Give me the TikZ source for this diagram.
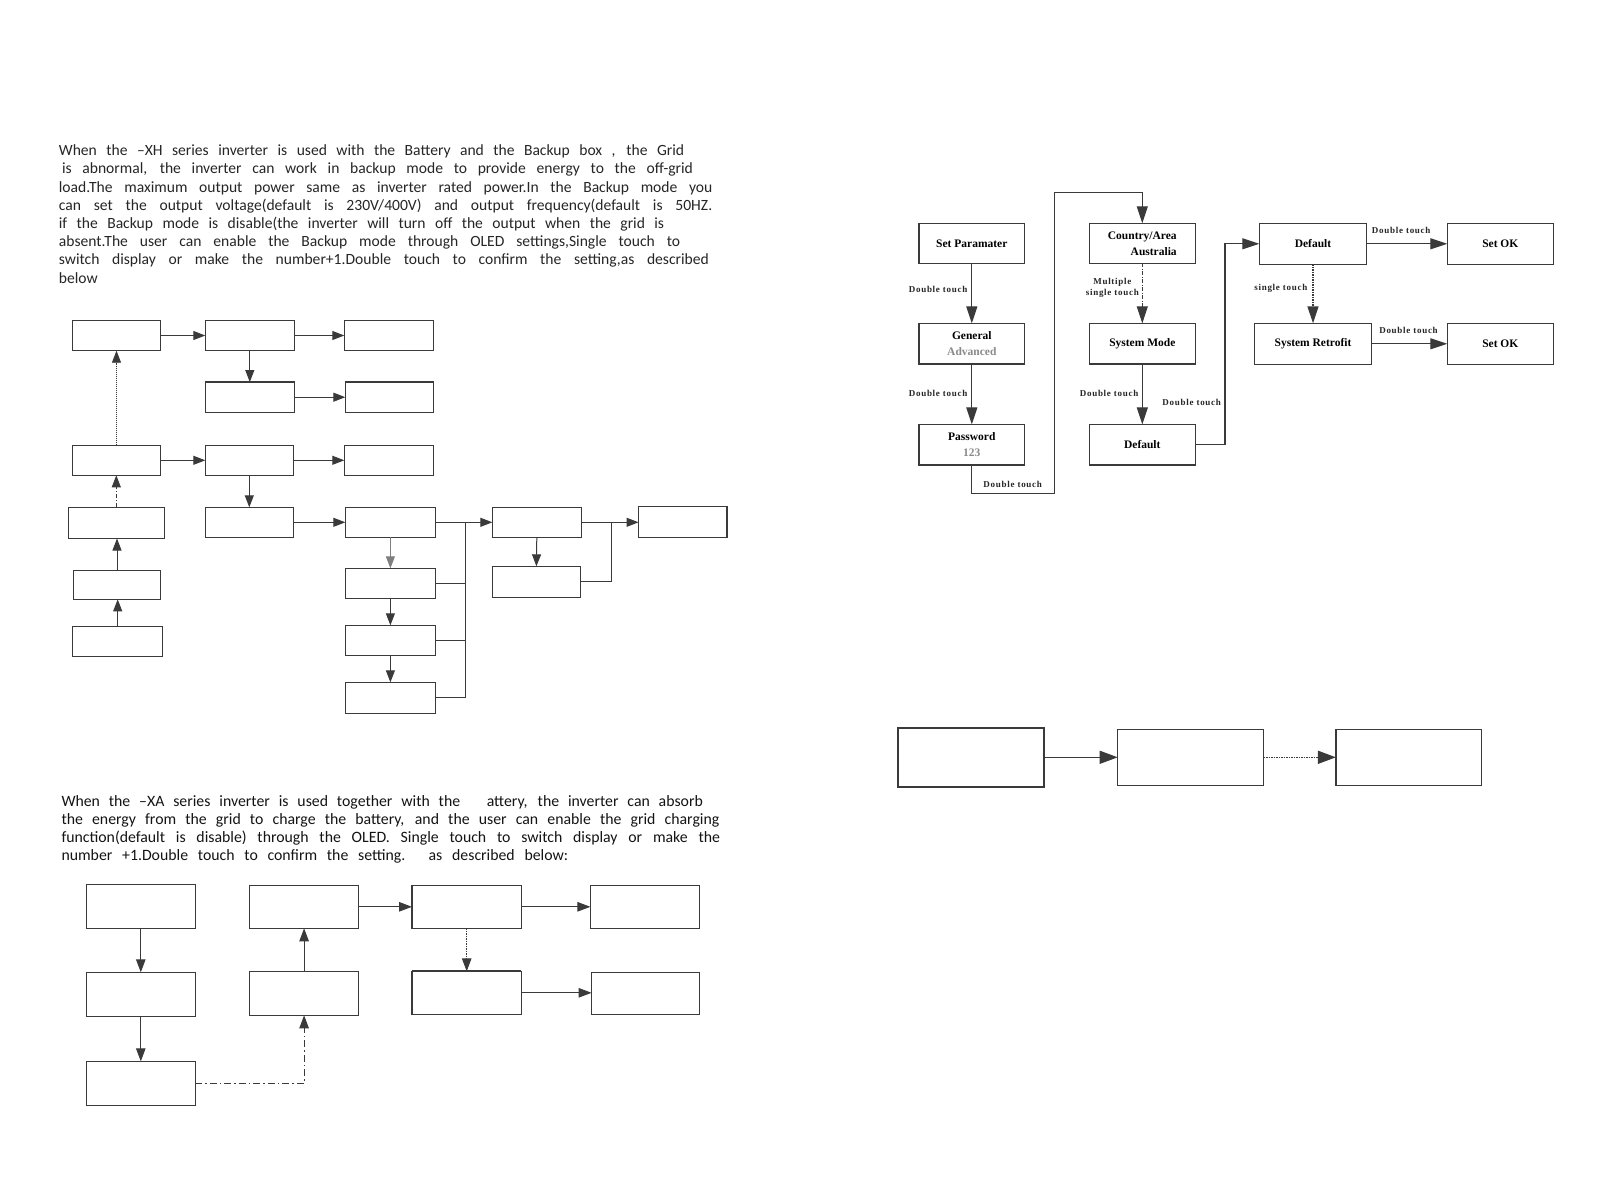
\documentclass[tikz,border=0pt]{standalone}
\usepackage{fontspec}
\setmainfont{Liberation Serif}
\newfontfamily\parafont{Carlito}
\newfontfamily\lblfont[LetterSpace=8]{Liberation Serif}
\usetikzlibrary{arrows.meta}
\definecolor{lc}{HTML}{3A3A3A}
\definecolor{gtx}{HTML}{8A8A8A}
\tikzset{
 bx/.style={draw=lc, line width=1.3pt, rectangle, inner sep=0pt, outer sep=0pt},
 conn/.style={draw=lc, line width=1pt},
 arrA/.style={draw=lc, line width=1pt, -{Triangle[length=12pt,width=9pt]}},
 arrB/.style={draw=lc, line width=1pt, -{Triangle[length=13pt,width=9.5pt]}},
 arrR/.style={draw=lc, line width=1.2pt, -{Triangle[length=17pt,width=11pt]}},
 arrT/.style={draw=lc, line width=1.2pt, -{Triangle[length=18pt,width=13pt]}},
 para/.style={anchor=base west, inner sep=0pt, font=\parafont\fontsize{15.6}{18}\selectfont, text=black!85},
 parb/.style={anchor=base west, inner sep=0pt, font=\parafont\fontsize{15.8}{18}\selectfont, text=black!92},
 boxtxt/.style={font=\fontsize{11.5}{16}\selectfont\bfseries, align=center},
 lbl/.style={font=\lblfont\fontsize{9}{11}\selectfont\bfseries, inner sep=0pt, text=black!85, align=center},
}
\begin{document}
\begin{tikzpicture}[x=1pt,y=-1pt]
\useasboundingbox (0,0) rectangle (1616,1191);
\fill[white] (0,0) rectangle (1616,1191);

% ---------- paragraph 1 ----------
\node[para] (t1l1) at (58.7,155.7) {\makebox[625.3pt][s]{When the –XH series inverter is used with the Battery and  the  Backup box , the Grid}};
\node[para] (t1l2) at (61.8,173.9) {\makebox[630.9pt][s]{is abnormal,  the inverter can work in backup mode to provide energy to the off-grid}};
\node[para] (t1l3) at (58.7,192.1) {\makebox[653.5pt][s]{load.The maximum output power same as inverter rated power.In the Backup mode you}};
\node[para] (t1l4) at (58.7,210.3) {\makebox[653.4pt][s]{can set the output voltage(default is 230V/400V) and output frequency(default is 50HZ.}};
\node[para] (t1l5) at (58.7,228.5) {\makebox[605.3pt][s]{if the Backup mode is disable(the inverter will turn off the output when the grid is}};
\node[para] (t1l6) at (58.7,246.7) {\makebox[621.3pt][s]{absent.The user can enable the Backup mode through OLED settings,Single touch to}};
\node[para] (t1l7) at (58.7,264.9) {\makebox[650pt][s]{switch display or make the number+1.Double touch to confirm the setting,as described}};
\node[para] (t1l8) at (58.7,283.1) {below};

% ---------- upper-left diagram ----------
\node[bx, minimum width=88.4pt, minimum height=30.4pt] (a1) at (116.5,335.5) {};
\node[bx, minimum width=89pt, minimum height=30.4pt] (a2) at (249.8,335.5) {};
\node[bx, minimum width=89.4pt, minimum height=30.4pt] (a3) at (389,335.5) {};
\node[bx, minimum width=89pt, minimum height=30.3pt] (b2) at (249.8,397.2) {};
\node[bx, minimum width=88.4pt, minimum height=30.3pt] (b3) at (389.5,397.2) {};
\node[bx, minimum width=88.4pt, minimum height=30pt] (c1) at (116.5,460.3) {};
\node[bx, minimum width=88pt, minimum height=30pt] (c2) at (249.3,460.3) {};
\node[bx, minimum width=89.4pt, minimum height=30pt] (c3) at (389,460.3) {};
\node[bx, minimum width=96.3pt, minimum height=31.2pt] (d1) at (116.3,522.9) {};
\node[bx, minimum width=88.4pt, minimum height=30pt] (d2) at (249.5,522.3) {};
\node[bx, minimum width=90.2pt, minimum height=30pt] (d3) at (390.4,522.3) {};
\node[bx, minimum width=88.9pt, minimum height=30pt] (d4) at (536.8,522.3) {};
\node[bx, minimum width=88.5pt, minimum height=31pt] (d5) at (682.8,521.8) {};
\node[bx, minimum width=88.2pt, minimum height=31pt] (e4) at (536.4,581.8) {};
\node[bx, minimum width=90.2pt, minimum height=30pt] (e3) at (390.4,583.3) {};
\node[bx, minimum width=90.2pt, minimum height=30pt] (f3) at (390.4,640.3) {};
\node[bx, minimum width=90.2pt, minimum height=31pt] (g3) at (390.4,697.8) {};
\node[bx, minimum width=87.2pt, minimum height=29pt] (e1) at (117,584.8) {};
\node[bx, minimum width=90.2pt, minimum height=30pt] (f1) at (117.7,641.3) {};

\draw[arrA] (a1.east) -- (a2.west);
\draw[arrA] (a2.east) -- (a3.west);
\draw[arrA] (a2.south) -- (b2.north);
\draw[arrA] (b2.east) -- (b3.west);
\draw[arrA, line width=0.8pt, dash pattern=on 1.2pt off 0.8pt] (c1.north) -- (a1.south);
\draw[arrA] (c1.east) -- (c2.west);
\draw[arrA] (c2.east) -- (c3.west);
\draw[arrA] (c2.south) -- (c2.south |- d2.north);
\draw[arrA, line width=0.8pt, dash pattern=on 4pt off 2pt on 1pt off 2pt] (d1.north) -- (d1.north |- c1.south);
\draw[arrA] (e1.north) -- (e1.north |- d1.south);
\draw[arrA] (f1.north) -- (f1.north |- e1.south);
\draw[arrA] (d2.east) -- (d3.west);
\coordinate (j1) at (465.5,522.3);
\draw[arrA] (d3.east) -- (d4.west);
\draw[conn] (j1) -- (j1 |- g3.east);
\draw[conn] (e3.east) -- (e3.east -| j1);
\draw[conn] (f3.east) -- (f3.east -| j1);
\draw[conn] (g3.east) -- (g3.east -| j1);
\draw[arrA, draw=lc!65] (d3.south) -- (e3.north);
\draw[arrA] (e3.south) -- (f3.north);
\draw[arrA] (f3.south) -- (g3.north);
\coordinate (j2) at (611.6,522.3);
\draw[arrA] (d4.east) -- (d4.east -| d5.west);
\draw[conn] (j2) -- (j2 |- e4.east) -- (e4.east);
\draw[arrA] (d4.south) -- (e4.north);

% ---------- paragraph 2 ----------
\node[parb] (t2l1) at (61.3,806.7) {\makebox[641.3pt][s]{When the –XA series inverter is used together with the \ \ attery, the inverter can absorb}};
\node[parb] (t2l2) at (61.3,824.7) {\makebox[657.8pt][s]{the energy from the grid to charge the battery, and the user can enable the grid charging}};
\node[parb] (t2l3) at (61.3,842.7) {\makebox[658.7pt][s]{function(default is disable) through the OLED. Single touch to switch display or make the}};
\node[parb] (t2l4) at (61.3,860.7) {\makebox[506.7pt][s]{number +1.Double touch to confirm the setting. as described below:}};

% ---------- bottom-left diagram ----------
\node[bx, minimum width=109pt, minimum height=44pt] (p1) at (140.8,906.3) {};
\node[bx, minimum width=109pt, minimum height=44pt] (p2) at (140.8,994.3) {};
\node[bx, minimum width=109pt, minimum height=44pt] (p3) at (140.8,1083.3) {};
\node[bx, minimum width=109pt, minimum height=43pt] (q1) at (304.1,906.8) {};
\node[bx, minimum width=109pt, minimum height=44pt] (q2) at (304.1,993.3) {};
\node[bx, minimum width=109.4pt, minimum height=43pt] (r1) at (466.7,906.8) {};
\node[bx, minimum width=109.4pt, minimum height=43pt] (r2) at (466.7,992.8) {};
\draw[lc, line width=2.2pt] (r2.north west) -- (r2.north east);
\node[bx, minimum width=109pt, minimum height=43pt] (s1) at (644.9,906.8) {};
\node[bx, minimum width=107.8pt, minimum height=42pt] (s2) at (645.5,993.3) {};

\draw[arrB] (p1.south) -- (p2.north);
\draw[arrB] (p2.south) -- (p3.north);
\draw[arrB, dash pattern=on 7pt off 3pt on 1.5pt off 3pt] (p3.east) -| (q2.south);
\draw[arrB] (q2.north) -- (q1.south);
\draw[arrB] (q1.east) -- (r1.west);
\draw[arrB] (r1.east) -- (s1.west);
\draw[arrB, dash pattern=on 1.5pt off 1pt] (r1.south) -- (r2.north);
\draw[arrB] (r2.east) -- (r2.east -| s2.west);

% ---------- top-right diagram ----------
\node[bx, boxtxt, minimum width=105.7pt, minimum height=40pt] (sp) at (971.8,243.3) {Set Paramater};
\node[bx, boxtxt, minimum width=105.7pt, minimum height=40.7pt] (gen) at (971.8,343.7) {General\\{\color{gtx}Advanced}};
\node[bx, boxtxt, minimum width=105.7pt, minimum height=40.7pt] (pw) at (971.8,444.7) {Password\\{\color{gtx}123}};
\node[bx, boxtxt, align=right, minimum width=106pt, minimum height=40pt] (ca) at (1142.3,243.3) {Country/Area\\Australia};
\node[bx, boxtxt, minimum width=106pt, minimum height=40.7pt] (sm) at (1142.3,343.7) {System Mode};
\node[bx, boxtxt, minimum width=106pt, minimum height=40.7pt] (df) at (1142.3,444.7) {Default};
\node[bx, boxtxt, minimum width=107.4pt, minimum height=41pt] (df2) at (1313,243.8) {Default};
\node[bx, boxtxt, minimum width=106pt, minimum height=41pt] (ok1) at (1500.3,243.8) {Set OK};
\node[bx, boxtxt, minimum width=117.4pt, minimum height=41pt] (sr) at (1313,343.8) {System Retrofit};
\node[bx, boxtxt, minimum width=106pt, minimum height=41pt] (ok2) at (1500.3,343.8) {Set OK};

\draw[arrR] (sp.south) -- (gen.north);
\node[lbl, anchor=east] (l1) at (967.5,289.3) {Double touch};
\draw[arrR] (gen.south) -- (pw.north);
\node[lbl, anchor=east] (l2) at (967.5,393.3) {Double touch};
\coordinate (k1) at (971.8,493.5);
\coordinate (k2) at (1054.3,493.5);
\coordinate (k3) at (1054.3,192.5);
\coordinate (k4) at (1142.3,192.5);
\draw[arrR] (pw.south) -- (k1) -- (k2) -- (k3) -- (k4) -- (ca.north);
\node[lbl] (l3) at (1012.7,484.3) {Double touch};
\draw[arrR, line width=0.9pt, dash pattern=on 4pt off 1.5pt on 1pt off 1.5pt] (ca.south) -- (sm.north);
\node[lbl, anchor=east] (l4) at (1139,288) {Multiple\\single touch};
\draw[arrR] (sm.south) -- (df.north);
\node[lbl, anchor=east] (l5) at (1138.5,393.3) {Double touch};
\coordinate (k5) at (1225,444.7);
\coordinate (k6) at (1225,243.8);
\draw[arrR] (df.east) -- (k5) -- (k6) -- (df2.west);
\node[lbl] (l6) at (1191.7,402.7) {Double touch};
\draw[arrR] (df2.east) -- (ok1.west);
\node[lbl] (l7) at (1401.2,230) {Double touch};
\draw[arrR, line width=1.4pt, dash pattern=on 1.5pt off 1pt] (df2.south) -- (sr.north);
\node[lbl, anchor=east] (l8) at (1307.5,288.3) {single touch};
\draw[arrR] (sr.east) -- (ok2.west);
\node[lbl] (l9) at (1408.5,330.3) {Double touch};

% ---------- bottom-right diagram ----------
\node[bx, line width=2pt, minimum width=145.8pt, minimum height=58.7pt] (u1) at (971.3,757.7) {};
\node[bx, minimum width=145.8pt, minimum height=56pt] (u2) at (1190.6,757.3) {};
\node[bx, minimum width=145.8pt, minimum height=56pt] (u3) at (1408.75,757.3) {};
\draw[arrT] (u1.east |- u2.west) -- (u2.west);
\draw[arrT, line width=1.6pt, dash pattern=on 1.5pt off 1pt] (u2.east) -- (u3.west);
\end{tikzpicture}
\end{document}
